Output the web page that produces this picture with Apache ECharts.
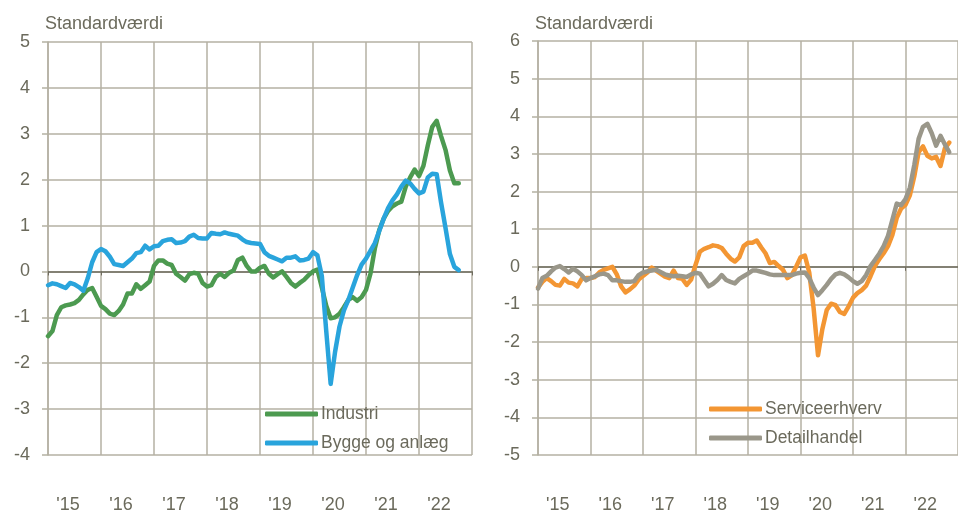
<!DOCTYPE html>
<html>
<head>
<meta charset="utf-8">
<script src="https://cdn.jsdelivr.net/npm/echarts@6/dist/echarts.min.js"></script>
<style>
  html, body { margin: 0; padding: 0; background: #fff; }
  #main { width: 958px; height: 514px; }
</style>
</head>
<body>
<div id="main"></div>
<script>
// maanedlige tal fra jan 2015
var startYear = 2015;
var yearLabels = ["'15", "'16", "'17", "'18", "'19", "'20", "'21", "'22"];

var industri = [
  -1.41, -1.30, -0.95, -0.78, -0.74, -0.72, -0.69, -0.62, -0.50, -0.40, -0.36, -0.55,
  -0.75, -0.82, -0.92, -0.95, -0.86, -0.72, -0.48, -0.48, -0.28, -0.38, -0.30, -0.22,
  0.12, 0.24, 0.24, 0.17, 0.14, -0.05, -0.12, -0.20, -0.06, -0.03, -0.05, -0.25,
  -0.33, -0.30, -0.12, -0.05, -0.12, -0.03, 0.02, 0.25, 0.30, 0.12, 0.00, 0.00,
  0.08, 0.12, -0.05, -0.13, -0.06, 0.00, -0.12, -0.25, -0.33, -0.25, -0.18, -0.08,
  0.00, 0.04, -0.35, -0.75, -1.02, -1.00, -0.92, -0.78, -0.62, -0.56, -0.64, -0.56,
  -0.40, -0.05, 0.50, 0.90, 1.15, 1.32, 1.42, 1.48, 1.52, 1.85, 2.05, 2.22,
  2.08, 2.30, 2.75, 3.15, 3.28, 2.95, 2.65, 2.20, 1.92, 1.92
];
var bygge = [
  -0.30, -0.26, -0.28, -0.32, -0.36, -0.25, -0.28, -0.34, -0.42, -0.15, 0.20, 0.42,
  0.49, 0.44, 0.32, 0.16, 0.14, 0.12, 0.20, 0.28, 0.40, 0.42, 0.56, 0.48,
  0.55, 0.56, 0.66, 0.69, 0.70, 0.62, 0.63, 0.66, 0.76, 0.80, 0.73, 0.72,
  0.72, 0.84, 0.82, 0.81, 0.85, 0.82, 0.80, 0.78, 0.70, 0.64, 0.62, 0.61,
  0.60, 0.42, 0.34, 0.30, 0.26, 0.22, 0.30, 0.30, 0.33, 0.24, 0.25, 0.28,
  0.42, 0.35, -0.10, -1.30, -2.45, -1.75, -1.20, -0.85, -0.62, -0.35, -0.08, 0.15,
  0.28, 0.45, 0.62, 0.88, 1.15, 1.38, 1.55, 1.68, 1.85, 1.98, 1.92, 1.80,
  1.70, 1.74, 2.05, 2.13, 2.12, 1.50, 0.95, 0.38, 0.10, 0.03
];
var service = [
  -0.55, -0.40, -0.30, -0.38, -0.48, -0.50, -0.32, -0.42, -0.44, -0.52, -0.32, -0.30,
  -0.30, -0.27, -0.15, -0.08, -0.04, 0.00, -0.20, -0.52, -0.68, -0.60, -0.50, -0.34,
  -0.24, -0.15, -0.02, -0.10, -0.18, -0.26, -0.30, -0.10, -0.30, -0.32, -0.48, -0.34,
  0.05, 0.40, 0.48, 0.52, 0.57, 0.55, 0.50, 0.35, 0.22, 0.14, 0.25, 0.55,
  0.64, 0.64, 0.70, 0.52, 0.36, 0.10, 0.13, 0.02, -0.08, -0.30, -0.22, 0.00,
  0.25, 0.30, -0.15, -1.10, -2.35, -1.65, -1.15, -0.98, -1.02, -1.20, -1.25, -1.05,
  -0.82, -0.70, -0.62, -0.50, -0.25, 0.02, 0.20, 0.36, 0.55, 0.85, 1.30, 1.55,
  1.65, 1.90, 2.40, 3.05, 3.20, 2.95, 2.88, 2.92, 2.68, 3.15, 3.30
];
var detail = [
  -0.58, -0.30, -0.24, -0.12, -0.02, 0.02, -0.06, -0.15, -0.05, -0.12, -0.22, -0.36,
  -0.30, -0.25, -0.20, -0.18, -0.22, -0.36, -0.36, -0.38, -0.40, -0.40, -0.38, -0.22,
  -0.15, -0.12, -0.10, -0.08, -0.14, -0.20, -0.23, -0.25, -0.24, -0.25, -0.27, -0.20,
  -0.16, -0.18, -0.35, -0.52, -0.45, -0.35, -0.22, -0.35, -0.40, -0.44, -0.32, -0.25,
  -0.18, -0.10, -0.10, -0.13, -0.16, -0.20, -0.22, -0.22, -0.22, -0.22, -0.22, -0.18,
  -0.16, -0.15, -0.30, -0.55, -0.75, -0.62, -0.48, -0.32, -0.20, -0.16, -0.20, -0.28,
  -0.38, -0.45, -0.38, -0.22, 0.02, 0.18, 0.35, 0.55, 0.82, 1.25, 1.68, 1.64,
  1.80, 2.10, 2.70, 3.40, 3.72, 3.80, 3.55, 3.22, 3.48, 3.25, 3.05
];

function toPairs(arr) {
  return arr.map(function (v, i) { return [startYear + i / 12, v]; });
}

var txt = '#6b6a5c';
var gridCol = '#b4b1a3';
var zeroCol = '#6e6b5e';
var font = "'Liberation Sans', Arial, sans-serif";

function valueX(gi) {
  return {
    type: 'value', gridIndex: gi, min: 2015, max: 2023, interval: 1,
    position: 'bottom',
    axisLine: { show: true, onZero: true, lineStyle: { color: zeroCol, width: 1.5 } },
    axisTick: { show: true, length: 4, lineStyle: { color: zeroCol } },
    axisLabel: { show: false },
    splitLine: { show: true, lineStyle: { color: gridCol, width: 1.5 } }
  };
}
function labelX(gi) {
  return {
    type: 'category', gridIndex: gi, data: yearLabels, boundaryGap: true,
    position: 'bottom',
    axisLine: { show: false, onZero: false },
    axisTick: { show: false },
    splitLine: { show: false },
    axisLabel: { color: txt, fontSize: 18, fontFamily: font, margin: 41, padding: [0, 13, 0, 0] }
  };
}
function valueY(gi, mn, mx) {
  return {
    type: 'value', gridIndex: gi, min: mn, max: mx, interval: 1,
    axisLine: { show: true, lineStyle: { color: gridCol, width: 1.5 } },
    axisTick: { show: true, inside: false, length: 6, lineStyle: { color: gridCol, width: 1.5 } },
    axisLabel: { color: txt, fontSize: 18, fontFamily: font, margin: 18 },
    splitLine: { show: true, lineStyle: { color: gridCol, width: 1.5 } }
  };
}
function lineSeries(name, data, color, xi, yi) {
  return {
    name: name, type: 'line', data: toPairs(data),
    xAxisIndex: xi, yAxisIndex: yi,
    showSymbol: false, symbol: 'none', smooth: false,
    lineStyle: { color: color, width: 4.5, cap: 'round', join: 'round' },
    itemStyle: { color: color },
    z: 5
  };
}

var chart = echarts.init(document.getElementById('main'));
var option = {
  animation: false,
  backgroundColor: '#ffffff',
  title: [
    { text: 'Standardværdi', left: 45, top: 15, padding: 0,
      textStyle: { color: txt, fontSize: 18, fontWeight: 'normal', fontFamily: font } },
    { text: 'Standardværdi', left: 535, top: 15, padding: 0,
      textStyle: { color: txt, fontSize: 18, fontWeight: 'normal', fontFamily: font } }
  ],
  grid: [
    { left: 48, top: 42, right: 486, bottom: 58 },
    { left: 538, top: 41, right: -9, bottom: 58 }
  ],
  xAxis: [valueX(0), labelX(0), valueX(1), labelX(1)],
  yAxis: [valueY(0, -4, 5), valueY(1, -5, 6)],
  legend: [
    { data: ['Industri', 'Bygge og anlæg'], orient: 'vertical', left: 265, top: 402,
      icon: 'roundRect', itemWidth: 53, itemHeight: 5, itemGap: 5, padding: 0,
      textStyle: { color: txt, fontSize: 17.5, fontFamily: font, lineHeight: 24, padding: [0, 0, 0, -2] } },
    { data: ['Serviceerhverv', 'Detailhandel'], orient: 'vertical', left: 709, top: 397,
      icon: 'roundRect', itemWidth: 53, itemHeight: 5, itemGap: 5, padding: 0,
      textStyle: { color: txt, fontSize: 17.5, fontFamily: font, lineHeight: 24, padding: [0, 0, 0, -2] } }
  ],
  series: [
    lineSeries('Industri', industri, '#4c9a50', 0, 0),
    lineSeries('Bygge og anlæg', bygge, '#29a4dc', 0, 0),
    lineSeries('Serviceerhverv', service, '#f39633', 2, 1),
    lineSeries('Detailhandel', detail, '#9a978a', 2, 1)
  ]
};
chart.clear();
chart.setOption(option);
</script>
</body>
</html>
